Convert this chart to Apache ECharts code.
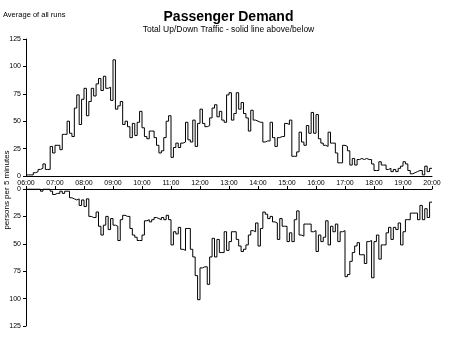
<!DOCTYPE html>
<html>
<head>
<meta charset="utf-8">
<script src="https://cdn.jsdelivr.net/npm/echarts@6/dist/echarts.min.js"></script>
<style>
html,body{margin:0;padding:0;background:#fff;}
#chart{width:465px;height:340px;}
</style>
</head>
<body>
<div id="chart"></div>
<script>
// Tick labels for the time axis (every hour)
const timeLabels = ['06:00','07:00','08:00','09:00','10:00','11:00','12:00','13:00','14:00','15:00','16:00','17:00','18:00','19:00','20:00'];
// Y tick labels
const yTicks = [0, 25, 50, 75, 100, 125];

// Up traffic, persons per 5 minutes, 06:00 .. 19:55 (12 values per hour)
const upTraffic = [
  1,1,1,3,4,6,7,11,6,6,27,21,
  28,28,24,38,38,50,39,36,62,74,47,70,
  80,55,68,80,73,84,89,78,91,80,81,69,
  106,61,64,68,47,50,45,35,48,37,49,59,
  44,36,34,41,41,35,28,21,23,35,50,55,
  17,26,30,26,30,31,49,33,31,51,27,48,
  61,48,45,46,53,62,65,54,59,51,49,74,
  76,51,57,76,61,67,57,53,41,60,51,50,
  49,49,31,32,32,49,35,27,35,36,36,48,
  47,51,18,18,22,40,31,28,46,39,58,39,
  56,34,30,28,27,40,30,30,21,12,12,28,
  27,23,10,16,10,15,16,15,16,15,15,11,
  5,5,13,10,10,6,7,4,6,4,7,9,
  13,11,5,2,3,4,5,5,1,9,4,7
];

// Down traffic, persons per 5 minutes, 06:00 .. 19:55 (plotted below)
const downTraffic = [
  0,0,0,0,0,0,2,0,0,0,2,5,
  4,4,2,4,2,2,8,9,10,9,15,10,
  16,9,25,26,26,21,34,42,33,25,37,27,
  33,34,47,28,24,25,25,36,42,44,47,47,
  42,29,28,30,28,26,27,28,26,28,24,28,
  51,39,41,35,55,56,36,36,55,62,79,101,
  72,71,71,87,62,45,62,46,58,58,39,56,
  48,39,39,46,52,57,55,51,42,38,39,31,
  52,36,21,23,27,25,30,31,46,27,34,34,
  48,40,48,28,20,42,43,32,32,32,39,38,
  57,42,48,44,29,51,34,39,32,48,39,38,
  80,78,66,58,52,49,60,60,68,48,47,81,
  48,42,64,51,51,40,35,46,35,37,31,51,
  39,28,28,22,22,22,28,15,28,18,26,12
];

const STEP = 5; // minutes per bucket
function toPairs(arr) {
  const out = arr.map((v, i) => [i * STEP, v]);
  out.push([arr.length * STEP, arr[arr.length - 1]]);
  return out;
}

const FONT = 'Liberation Sans';
const axisLbl = {color: '#000', fontSize: 7, fontFamily: FONT};
const blackLine = {lineStyle: {color: '#000', width: 1}};

const chart = echarts.init(document.getElementById('chart'), null, {renderer: 'canvas'});
const xMax = (timeLabels.length - 1) * 60;

chart.setOption({
  animation: false,
  backgroundColor: '#fff',
  graphic: [
    {type: 'text', x: 228.5, y: 17,
     style: {text: 'Passenger Demand', fontFamily: FONT, fontSize: 14, fontWeight: 'bold', fill: '#000', align: 'center', verticalAlign: 'middle'}},
    {type: 'text', x: 228.5, y: 30,
     style: {text: 'Total Up/Down Traffic - solid line above/below', fontFamily: FONT, fontSize: 8.5, fill: '#000', align: 'center', verticalAlign: 'middle'}},
    {type: 'text', x: 3, y: 15,
     style: {text: 'Average of all runs', fontFamily: FONT, fontSize: 7.5, fill: '#000', align: 'left', verticalAlign: 'middle'}},
    {type: 'text', x: 7, y: 190, rotation: Math.PI / 2,
     style: {text: 'persons per 5 minutes', fontFamily: FONT, fontSize: 8, fill: '#000', align: 'center', verticalAlign: 'middle'}}
  ],
  grid: [
    {left: 26, right: 33, top: 39, height: 137, containLabel: false, outerBoundsMode: 'none'},
    {left: 26, right: 33, top: 189, height: 137, containLabel: false, outerBoundsMode: 'none'}
  ],
  xAxis: [
    {gridIndex: 0, type: 'value', min: 0, max: xMax, interval: 60, position: 'bottom',
     axisLine: {show: true, onZero: false, ...blackLine}, axisTick: {show: false}, axisLabel: {show: false}, splitLine: {show: false}},
    {gridIndex: 1, type: 'value', min: 0, max: xMax, interval: 60, position: 'top',
     axisLine: {show: true, onZero: false, ...blackLine},
     axisTick: {show: true, length: 3, ...blackLine},
     axisLabel: {...axisLbl, margin: 2, showMinLabel: true, showMaxLabel: true, formatter: v => timeLabels[Math.round(v / 60)]},
     splitLine: {show: false}}
  ],
  yAxis: [
    {gridIndex: 0, type: 'value', min: yTicks[0], max: yTicks[yTicks.length - 1], interval: 25,
     axisLine: {show: true, ...blackLine}, axisTick: {show: true, length: 3, ...blackLine},
     axisLabel: {...axisLbl, margin: 5, formatter: v => String(v)}, splitLine: {show: false}},
    {gridIndex: 1, type: 'value', inverse: true, min: yTicks[0], max: yTicks[yTicks.length - 1], interval: 25,
     axisLine: {show: true, ...blackLine}, axisTick: {show: true, length: 3, ...blackLine},
     axisLabel: {...axisLbl, margin: 5, formatter: v => String(v)}, splitLine: {show: false}}
  ],
  series: [
    {name: 'Up', type: 'line', xAxisIndex: 0, yAxisIndex: 0, step: 'end', symbol: 'none',
     lineStyle: {color: '#000', width: 1}, data: toPairs(upTraffic)},
    {name: 'Down', type: 'line', xAxisIndex: 1, yAxisIndex: 1, step: 'end', symbol: 'none',
     lineStyle: {color: '#000', width: 1}, data: toPairs(downTraffic)}
  ]
});
</script>
</body>
</html>
